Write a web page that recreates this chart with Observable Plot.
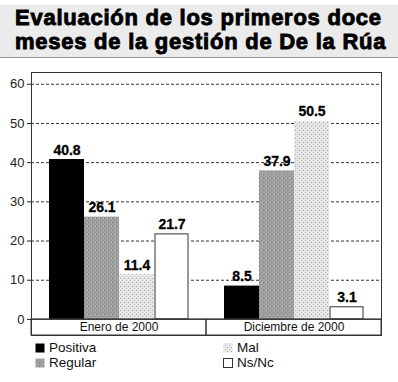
<!DOCTYPE html>
<html>
<head>
<meta charset="utf-8">
<script src="https://cdn.jsdelivr.net/npm/d3@7"></script>
<script src="https://cdn.jsdelivr.net/npm/@observablehq/plot@0.6"></script>
<style>
  body { margin: 0; background: #fff; font-family: "Liberation Sans", Arial, sans-serif; width: 398px; }
  #title { margin-top: 5px; height: 51px; background: #ebebeb; border-bottom: 1px solid #9a9a9a; padding-left: 15px;
           font-weight: bold; font-size: 22px; line-height: 24px; letter-spacing: 0.75px; color: #000;
           -webkit-text-stroke: 0.9px #000; padding-top: 1px; box-sizing: content-box; }
  #legend { display: grid; grid-template-columns: 188px auto; padding-left: 35px; font-size: 13.5px; color: #111; }
  #legend div { display: flex; align-items: center; height: 15px; line-height: 15px; }
  #legend svg { margin-right: 4px; }
</style>
</head>
<body>
<div id="title">Evaluación de los primeros doce<br>meses de la gestión de De la Rúa</div>
<div id="chart"></div>
<div id="legend"></div>
<script>
const groups = ["Enero de 2000", "Diciembre de 2000"];
const series = ["Positiva", "Regular", "Mal", "Ns/Nc"];
const eneroValues = [40.8, 26.1, 11.4, 21.7];
const diciembreValues = [8.5, 37.9, 50.5, 3.1];
const yTicks = [0, 10, 20, 30, 40, 50, 60];
const seriesFills = ["#000", "url(#pReg)", "url(#pMal)", "#fff"];

const data = [];
series.forEach((s, i) => data.push({group: groups[0], series: s, value: eneroValues[i]}));
series.forEach((s, i) => data.push({group: groups[1], series: s, value: diciembreValues[i]}));

const yMax = 63, yBand = -4.1;

const plot = Plot.plot({
  width: 398,
  height: 282,
  marginTop: 14,
  marginBottom: 5,
  marginLeft: 31,
  marginRight: 17,
  style: {fontFamily: "Liberation Sans, Arial, sans-serif", fontSize: "13px", color: "#222", background: "transparent"},
  fx: {domain: groups, padding: 0, axis: null, label: null},
  x: {domain: series, paddingInner: 0, paddingOuter: 0.5, axis: null, label: null},
  y: {domain: [yBand, yMax], ticks: yTicks, tickSize: 4, tickPadding: 3, label: null},
  color: {domain: series, range: seriesFills},
  marks: [
    Plot.ruleY(yTicks.filter(t => t > 0), {stroke: "#333", strokeDasharray: "3,2"}),
    Plot.barY(data, {fx: "group", x: "series", y: "value", fill: "series", insetLeft: 0, insetRight: 0}),
    Plot.barY(data.filter(d => d.series === "Ns/Nc"), {fx: "group", x: "series", y: "value", fill: "none", stroke: "#333", insetLeft: 1, insetRight: 1}),
    Plot.text(data, {fx: "group", x: "series", y: "value", text: d => d.value.toFixed(1), dy: -5, lineAnchor: "bottom",
      fontWeight: "bold", fontSize: 14, fill: "#000", stroke: "#000", strokeWidth: 0.3}),
    Plot.rect(groups, {fx: d => d, y1: yBand, y2: 0, fill: "none", stroke: "#333"}),
    Plot.text(groups, {fx: d => d, text: d => d, y: yBand / 2, fontSize: 12, fill: "#111"}),
    Plot.ruleY([yMax, 0], {stroke: "#333"}),
    Plot.frame({facet: "super", stroke: "#333"})
  ]
});

d3.select(plot).insert("defs", ":first-child").html(`
  <pattern id="pReg" width="4" height="4" patternUnits="userSpaceOnUse">
    <rect width="4" height="4" fill="#a2a2a2"/>
    <rect x="0" y="0" width="1" height="1" fill="#777"/>
    <rect x="2" y="2" width="1" height="1" fill="#8a8a8a"/>
    <rect x="3" y="0" width="1" height="1" fill="#bbb"/>
  </pattern>
  <pattern id="pMal" width="4" height="4" patternUnits="userSpaceOnUse">
    <rect width="4" height="4" fill="#e6e6e6"/>
    <rect x="0" y="0" width="1" height="1" fill="#aaa"/>
    <rect x="2" y="2" width="1" height="1" fill="#bdbdbd"/>
  </pattern>`);

document.getElementById("chart").appendChild(plot);

const legend = document.getElementById("legend");
const order = [0, 2, 1, 3];
order.forEach(i => {
  const item = document.createElement("div");
  item.innerHTML = `<svg width="10" height="10"><defs>
    <pattern id="lReg" width="4" height="4" patternUnits="userSpaceOnUse"><rect width="4" height="4" fill="#a2a2a2"/><rect width="1" height="1" fill="#777"/><rect x="2" y="2" width="1" height="1" fill="#8a8a8a"/></pattern>
    <pattern id="lMal" width="4" height="4" patternUnits="userSpaceOnUse"><rect width="4" height="4" fill="#e6e6e6"/><rect width="1" height="1" fill="#aaa"/><rect x="2" y="2" width="1" height="1" fill="#bdbdbd"/></pattern>
    </defs><rect x="0.5" y="0.5" width="9" height="9" fill="${seriesFills[i].replace('pReg','lReg').replace('pMal','lMal')}" stroke="${i === 3 ? '#333' : 'none'}"/></svg>${series[i]}`;
  legend.appendChild(item);
});
</script>
</body>
</html>
